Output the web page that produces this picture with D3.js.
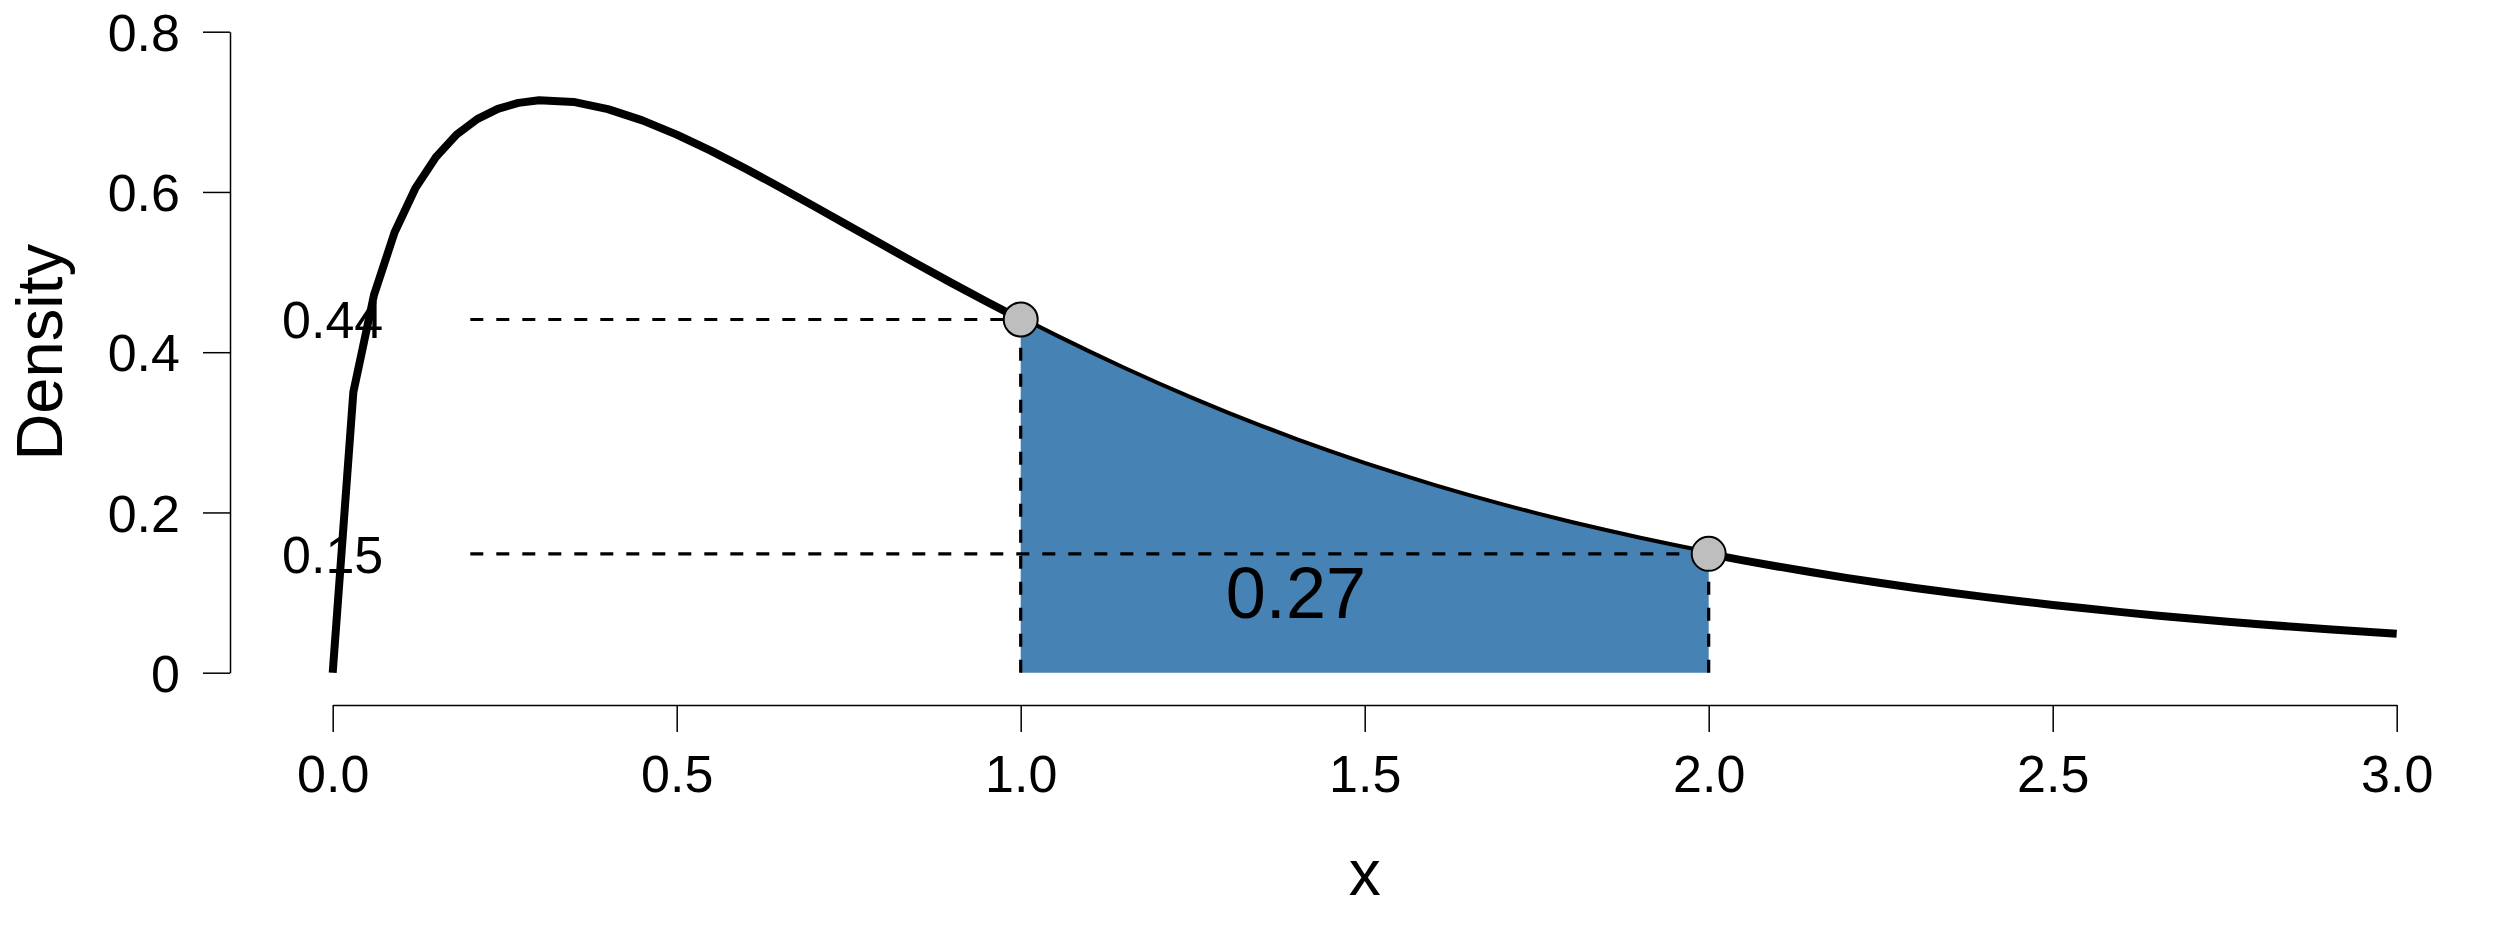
<!DOCTYPE html>
<html>
<head>
<meta charset="utf-8">
<script src="https://cdn.jsdelivr.net/npm/d3@7"></script>
<style>
  body { margin: 0; background: #ffffff; }
  svg { display: block; }
  text { font-family: "Liberation Sans", Arial, Helvetica, sans-serif; fill: #000; }
</style>
</head>
<body>
<svg id="chart" width="2500" height="925"></svg>
<script>
// ---- data ----
const xValues = [0, 0.03, 0.06, 0.09, 0.12, 0.15, 0.18, 0.21, 0.24, 0.27, 0.30,
  0.35, 0.40, 0.45, 0.50, 0.55, 0.60, 0.65, 0.70, 0.75, 0.80, 0.85, 0.90, 0.95,
  1.00, 1.05, 1.10, 1.15, 1.20, 1.25, 1.30, 1.35, 1.40, 1.45, 1.50, 1.55, 1.60,
  1.65, 1.70, 1.75, 1.80, 1.85, 1.90, 1.95, 2.00, 2.05, 2.10, 2.15, 2.20, 2.25,
  2.30, 2.35, 2.40, 2.45, 2.50, 2.55, 2.60, 2.65, 2.70, 2.75, 2.80, 2.85, 2.90,
  2.95, 3.00];
const densityValues = [0, 0.3502, 0.4714, 0.5497, 0.6044, 0.6435, 0.6715, 0.6909,
  0.7037, 0.7112, 0.7144, 0.7124, 0.7034, 0.6893, 0.6716, 0.6512, 0.6291, 0.6059,
  0.5820, 0.5578, 0.5337, 0.5097, 0.4862, 0.4632, 0.4408, 0.4191, 0.3982, 0.3780,
  0.3587, 0.3401, 0.3224, 0.3055, 0.2893, 0.2739, 0.2593, 0.2454, 0.2321, 0.2196,
  0.2077, 0.1964, 0.1857, 0.1756, 0.1660, 0.1569, 0.1483, 0.1402, 0.1326, 0.1253,
  0.1184, 0.1120, 0.1058, 0.1001, 0.0946, 0.0894, 0.0846, 0.0800, 0.0756, 0.0715,
  0.0676, 0.0640, 0.0605, 0.0573, 0.0542, 0.0513, 0.0485];
const markX = [1, 2];
const markY = [0.4408, 0.1483];
const markLabels = ["0.44", "0.15"];
const areaLabel = "0.27";
const areaLabelPos = [1.4, 0.1];
const xTicks = [0, 0.5, 1, 1.5, 2, 2.5, 3];
const xTickLabels = ["0.0", "0.5", "1.0", "1.5", "2.0", "2.5", "3.0"];
const yTicks = [0, 0.2, 0.4, 0.6, 0.8];
const yTickLabels = ["0", "0.2", "0.4", "0.6", "0.8"];
const dashStartX = 0.2;
const labelX = 0;

// ---- layout ----
const svg = d3.select("#chart");
const x = d3.scaleLinear().domain([0, 3]).range([332.7, 2396.7]);
const y = d3.scaleLinear().domain([0, 0.8]).range([672.7, 31.7]);

const pts = xValues.map((v, i) => ({ x: v, y: densityValues[i] }));

// curve (thick)
const line = d3.line().x(d => x(d.x)).y(d => y(d.y));
svg.append("path")
  .datum(pts)
  .attr("d", line)
  .attr("fill", "none")
  .attr("stroke", "#000")
  .attr("stroke-width", 8)
  .attr("stroke-linejoin", "round")
  .attr("stroke-linecap", "butt");

// shaded area between 1 and 2
const areaPts = pts.filter(d => d.x >= markX[0] - 1e-9 && d.x <= markX[1] + 1e-9);
const area = d3.area().x(d => x(d.x)).y0(y(0)).y1(d => y(d.y));
svg.append("path")
  .datum(areaPts)
  .attr("d", area)
  .attr("fill", "steelblue")
  .attr("stroke", "none");

// labels for reference values
const fs = 52;
markLabels.forEach((lab, i) => {
  svg.append("text")
    .attr("x", x(labelX))
    .attr("y", y(markY[i]))
    .attr("dy", "0.36em")
    .attr("text-anchor", "middle")
    .attr("font-size", fs)
    .text(lab);
});

// dashed horizontal lines
markX.forEach((mx, i) => {
  svg.append("line")
    .attr("x1", x(dashStartX)).attr("x2", x(mx))
    .attr("y1", y(markY[i])).attr("y2", y(markY[i]))
    .attr("stroke", "#000").attr("stroke-width", 3.2)
    .attr("stroke-dasharray", "13,13");
});
// dashed vertical lines
markX.forEach((mx, i) => {
  svg.append("line")
    .attr("x1", x(mx)).attr("x2", x(mx))
    .attr("y1", y(0)).attr("y2", y(markY[i]))
    .attr("stroke", "#000").attr("stroke-width", 3.2)
    .attr("stroke-dasharray", "13,13");
});

// area label
svg.append("text")
  .attr("x", x(areaLabelPos[0]))
  .attr("y", y(areaLabelPos[1]))
  .attr("dy", "0.36em")
  .attr("text-anchor", "middle")
  .attr("font-size", 72)
  .text(areaLabel);

// points
svg.selectAll("circle.mark")
  .data(markX.map((mx, i) => ({ x: mx, y: markY[i] })))
  .join("circle")
  .attr("class", "mark")
  .attr("cx", d => x(d.x))
  .attr("cy", d => y(d.y))
  .attr("r", 17)
  .attr("fill", "#bebebe")
  .attr("stroke", "#000")
  .attr("stroke-width", 2);

// x axis
const xAxis = d3.axisBottom(x)
  .tickValues(xTicks)
  .tickFormat((d, i) => xTickLabels[i])
  .tickSize(27)
  .tickSizeOuter(0);
const gx = svg.append("g").attr("transform", "translate(0,705)").call(xAxis);
gx.select(".domain").attr("stroke", "#000").attr("stroke-width", 1.5);
gx.selectAll(".tick line").attr("stroke", "#000").attr("stroke-width", 1.5);
gx.selectAll(".tick text")
  .attr("y", 87).attr("dy", null)
  .attr("font-size", fs)
  .attr("font-family", "Liberation Sans, Arial, sans-serif")
  .attr("fill", "#000");

// y axis
const yAxis = d3.axisLeft(y)
  .tickValues(yTicks)
  .tickFormat((d, i) => yTickLabels[i])
  .tickSize(27)
  .tickSizeOuter(0);
const gy = svg.append("g").attr("transform", "translate(230,0)").call(yAxis);
gy.select(".domain").attr("stroke", "#000").attr("stroke-width", 1.5);
gy.selectAll(".tick line").attr("stroke", "#000").attr("stroke-width", 1.5);
gy.selectAll(".tick text")
  .attr("x", -50).attr("dy", "0.36em")
  .attr("font-size", fs)
  .attr("font-family", "Liberation Sans, Arial, sans-serif")
  .attr("fill", "#000");

// axis titles
svg.append("text")
  .attr("x", (x(0) + x(3)) / 2)
  .attr("y", 895)
  .attr("text-anchor", "middle")
  .attr("font-size", 64)
  .text("x");
svg.append("text")
  .attr("transform", `translate(62,${(y(0) + y(0.8)) / 2}) rotate(-90)`)
  .attr("text-anchor", "middle")
  .attr("font-size", 65)
  .text("Density");
</script>
</body>
</html>
